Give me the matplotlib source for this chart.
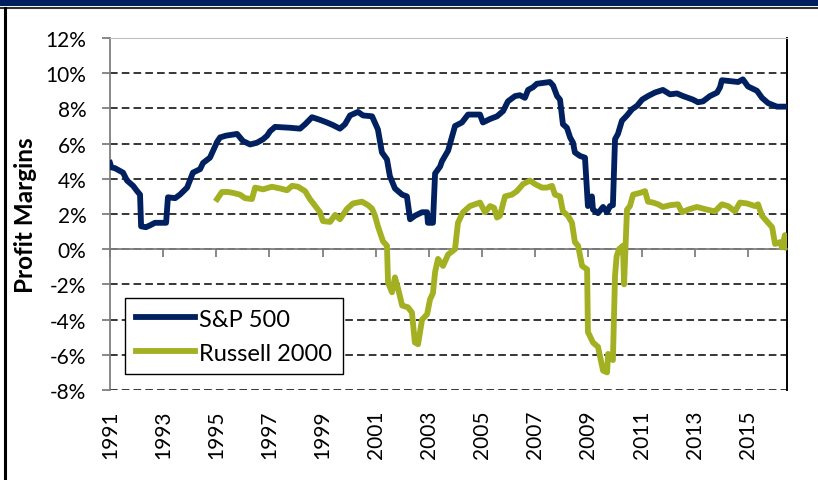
import matplotlib
matplotlib.use("Agg")
import matplotlib.pyplot as plt
from matplotlib.patches import Rectangle
from matplotlib.lines import Line2D

plt.rcParams['font.family'] = ['Lato', 'DejaVu Sans']

# S&P 500 profit margins (%), x in decimal years
sp_years = [1991.00, 1991.05, 1991.19, 1991.49, 1991.64, 1991.87, 1992.02, 1992.13, 1992.17,
            1992.35, 1992.50, 1992.69, 1993.11, 1993.18, 1993.45, 1993.63, 1993.90, 1994.12,
            1994.39, 1994.50, 1994.76, 1994.88, 1995.03, 1995.14, 1995.36, 1995.78, 1996.00,
            1996.27, 1996.53, 1996.76, 1996.91, 1997.02, 1997.21, 1997.77, 1998.15, 1998.34,
            1998.60, 1998.90, 1999.16, 1999.39, 1999.65, 1999.84, 2000.03, 2000.33, 2000.52,
            2000.86, 2001.08, 2001.23, 2001.42, 2001.53, 2001.72, 2001.99, 2002.17, 2002.29,
            2002.47, 2002.74, 2002.93, 2002.96, 2003.15, 2003.23, 2003.42, 2003.49, 2003.72,
            2003.98, 2004.24, 2004.47, 2004.92, 2005.03, 2005.30, 2005.56, 2005.79, 2005.97,
            2006.24, 2006.42, 2006.61, 2006.73, 2006.91, 2007.06, 2007.55, 2007.67, 2007.82,
            2007.93, 2008.04, 2008.19, 2008.31, 2008.42, 2008.49, 2008.68, 2008.87, 2008.98,
            2009.13, 2009.17, 2009.36, 2009.55, 2009.70, 2009.81, 2009.92, 2010.00, 2010.11,
            2010.26, 2010.45, 2010.64, 2010.83, 2011.02, 2011.24, 2011.50, 2011.80, 2012.07,
            2012.33, 2012.56, 2012.93, 2013.12, 2013.31, 2013.57, 2013.84, 2013.95, 2014.02,
            2014.33, 2014.63, 2014.81, 2015.00, 2015.34, 2015.53, 2015.76, 2016.09, 2016.47]
sp_vals = [4.9, 4.65, 4.6, 4.35, 3.9, 3.6, 3.3, 3.1, 1.3,
           1.25, 1.35, 1.5, 1.5, 2.95, 2.9, 3.1, 3.5, 4.35,
           4.55, 4.9, 5.2, 5.6, 6.1, 6.35, 6.45, 6.55, 6.15,
           5.95, 6.05, 6.25, 6.45, 6.7, 6.95, 6.9, 6.85, 7.1,
           7.5, 7.35, 7.2, 7.05, 6.85, 7.1, 7.6, 7.8, 7.6,
           7.55, 6.8, 5.5, 5.1, 4.15, 3.45, 3.1, 3.0, 1.7,
           1.9, 2.1, 2.1, 1.5, 1.5, 4.3, 4.7, 5.0, 5.6,
           7.0, 7.2, 7.65, 7.65, 7.2, 7.4, 7.55, 7.85, 8.4,
           8.7, 8.75, 8.6, 9.05, 9.2, 9.4, 9.5, 9.3, 8.7,
           8.5, 7.1, 6.9, 6.35, 6.05, 5.5, 5.3, 5.2, 2.45,
           3.0, 2.25, 2.05, 2.4, 2.1, 2.45, 2.5, 6.25, 6.55,
           7.3, 7.6, 7.95, 8.15, 8.5, 8.7, 8.9, 9.05, 8.8,
           8.85, 8.7, 8.5, 8.35, 8.4, 8.7, 8.9, 9.2, 9.6,
           9.55, 9.5, 9.65, 9.25, 9.0, 8.6, 8.3, 8.1, 8.1]

# Russell 2000 profit margins (%)
rus_years = [1995.03, 1995.21, 1995.44, 1995.63, 1995.89, 1996.08, 1996.34, 1996.46, 1996.76,
             1997.09, 1997.40, 1997.66, 1997.85, 1998.07, 1998.34, 1998.52, 1998.75, 1998.90,
             1999.01, 1999.28, 1999.47, 1999.65, 1999.92, 2000.14, 2000.48, 2000.71, 2000.86,
             2000.97, 2001.08, 2001.27, 2001.42, 2001.46, 2001.61, 2001.72, 2001.84, 2001.99,
             2002.21, 2002.36, 2002.47, 2002.59, 2002.74, 2002.93, 2003.04, 2003.15, 2003.23,
             2003.34, 2003.53, 2003.72, 2003.98, 2004.09, 2004.28, 2004.54, 2004.92, 2005.11,
             2005.30, 2005.45, 2005.56, 2005.67, 2005.86, 2006.12, 2006.31, 2006.54, 2006.80,
             2006.99, 2007.25, 2007.44, 2007.63, 2007.74, 2007.93, 2008.04, 2008.23, 2008.38,
             2008.49, 2008.61, 2008.76, 2008.95, 2008.98, 2009.17, 2009.36, 2009.43, 2009.55,
             2009.70, 2009.74, 2009.92, 2010.00, 2010.06, 2010.15, 2010.30, 2010.34, 2010.45,
             2010.56, 2010.68, 2010.94, 2011.13, 2011.24, 2011.43, 2011.62, 2011.80, 2012.07,
             2012.37, 2012.52, 2012.75, 2013.08, 2013.46, 2013.76, 2014.02, 2014.25, 2014.51,
             2014.70, 2014.96, 2015.27, 2015.38, 2015.53, 2015.76, 2015.91, 2016.02, 2016.21,
             2016.28, 2016.39, 2016.47]
rus_vals = [2.85, 3.25, 3.25, 3.2, 3.1, 2.9, 2.85, 3.5, 3.4,
            3.55, 3.45, 3.35, 3.6, 3.55, 3.3, 2.85, 2.4, 2.1,
            1.6, 1.55, 1.95, 1.7, 2.3, 2.6, 2.7, 2.5, 2.3,
            1.9, 1.3, 0.45, 0.2, -1.9, -2.45, -1.6, -2.25, -3.2,
            -3.3, -3.6, -5.3, -5.4, -4.0, -3.7, -2.85, -2.5, -1.3,
            -0.55, -0.95, -0.3, 0.0, 1.5, 2.1, 2.45, 2.65, 2.1,
            2.45, 2.35, 1.8, 1.9, 3.0, 3.1, 3.3, 3.7, 3.9,
            3.7, 3.5, 3.5, 3.6, 3.1, 3.0, 2.15, 1.9, 1.5,
            0.4, 0.2, -0.95, -1.15, -4.7, -5.3, -5.55, -6.05, -6.9,
            -7.0, -5.95, -6.3, -1.5, -0.4, 0.0, 0.2, -2.0, 2.25,
            2.45, 3.1, 3.2, 3.3, 2.7, 2.65, 2.55, 2.4, 2.5,
            2.55, 2.1, 2.25, 2.4, 2.25, 2.15, 2.55, 2.45, 2.15,
            2.65, 2.6, 2.45, 2.55, 1.9, 1.5, 1.25, 0.3, 0.4,
            0.1, 0.8, 0.1]

year_ticks = list(range(1991, 2017, 2))
year_labels = [str(y) for y in year_ticks]
pct_ticks = list(range(-8, 13, 2))
pct_labels = ['%d%%' % p for p in pct_ticks]

navy = '#002060'
olive = '#A2B021'

fig = plt.figure(figsize=(8.18, 4.81), dpi=100)
ax = fig.add_axes([110 / 818, 90 / 481, 677 / 818, 352 / 481])

ax.plot(sp_years, sp_vals, color=navy, lw=4.2, label='S&P 500', zorder=4, solid_joinstyle='round')
ax.plot(rus_years, rus_vals, color=olive, lw=4.2, label='Russell 2000', zorder=4, solid_joinstyle='round')

ax.set_xlim(1991.0, 2016.47)
ax.set_ylim(-8, 12)
ax.set_yticks(pct_ticks, pct_labels)
ax.yaxis.grid(True, color='black', linestyle=(0, (5, 2.7)), linewidth=1.1)
ax.set_axisbelow(True)

# category axis crosses at zero, labels sit below the plot
ax.spines['bottom'].set_position(('data', 0))
ax.spines['bottom'].set_color('#7F7F7F')
ax.spines['bottom'].set_linewidth(1.3)
ax.spines['left'].set_color('#7F7F7F')
ax.spines['left'].set_linewidth(1.3)
ax.spines['top'].set_color('#BFBFBF')
ax.spines['top'].set_linewidth(0.8)
ax.spines['right'].set_color('black')
ax.spines['right'].set_linewidth(1.4)
ax.set_xticks(year_ticks)
ax.tick_params(axis='x', direction='out', length=6, width=1.3, color='#7F7F7F', labelbottom=False)
ax.tick_params(axis='y', direction='out', length=6, width=1.3, color='#7F7F7F',
               labelsize=15, pad=11)

sec = ax.secondary_xaxis('bottom')
sec.set_xticks(year_ticks, year_labels)
sec.tick_params(axis='x', length=0, labelsize=15, pad=14, labelrotation=90)
sec.spines['bottom'].set_visible(False)

ax.set_ylabel('Profit Margins', fontsize=17.5, fontweight='bold', labelpad=6)

leg = ax.legend(loc='lower left', bbox_to_anchor=(0.022, 0.045), fontsize=17,
                frameon=True, fancybox=False, edgecolor='black', framealpha=1,
                handlelength=2.5, handletextpad=0.2, labelspacing=0.55, borderpad=0.45,
                borderaxespad=0)
leg.get_frame().set_linewidth(1.0)

# outer frame: navy band on top, black rule on the left
fig.add_artist(Rectangle((0, 1 - 7 / 481), 1, 7 / 481, transform=fig.transFigure,
                         facecolor='#002060', edgecolor='none'))
fig.add_artist(Line2D([0, 1], [1 - 8.5 / 481, 1 - 8.5 / 481], transform=fig.transFigure,
                      color='#333333', lw=1.5))
fig.add_artist(Line2D([4.5 / 818, 4.5 / 818], [0, 1 - 8.5 / 481], transform=fig.transFigure,
                      color='black', lw=2.2))

fig.savefig('out.png', dpi=100)
